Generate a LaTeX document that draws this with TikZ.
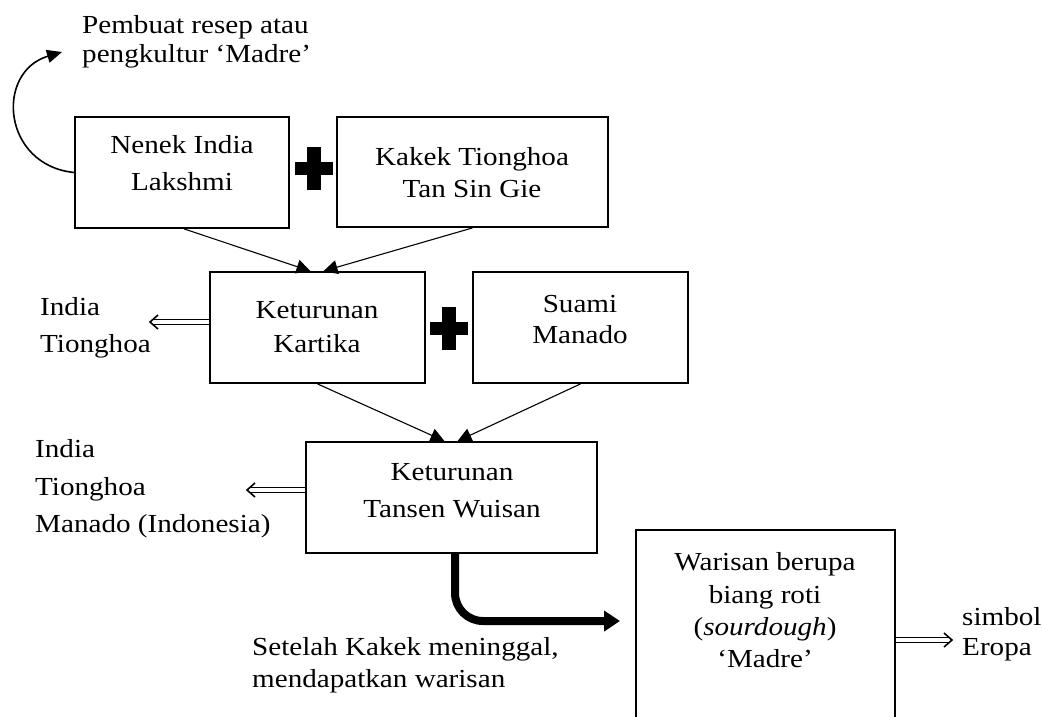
\documentclass[tikz,border=0pt]{standalone}
\usepackage{fontspec}
\setmainfont[FakeStretch=1.12]{Liberation Serif}
\usetikzlibrary{arrows.meta,calc}
\begin{document}
\begin{tikzpicture}[x=1pt,y=-1pt,
  box/.style={draw, line width=1.8pt, inner sep=0pt},
  txt/.style={inner sep=0pt, anchor=base, font=\fontsize{26}{30}\selectfont},
  txtw/.style={inner sep=0pt, anchor=base west, font=\fontsize{26}{30}\selectfont},
  thinarrow/.style={line width=1.1pt, -{Triangle[length=14pt,width=14pt]}},
  dblline/.style={double, double distance=3.2pt, line width=1.4pt},
  chev/.style={line width=1.6pt, line join=miter},
  fatarrow/.style={line width=8pt, rounded corners=28pt, -{Triangle[length=16pt,width=20pt]}},
  curvarrow/.style={line width=1.6pt, -{Triangle[length=15pt,width=13pt]}},
  plusbar/.style={fill=black, inner sep=0pt}
]
\useasboundingbox (0,0) rectangle (1043,716);
\clip (0,0) rectangle (1043,716);

% boxes
\node[box, minimum width=214pt, minimum height=111pt] (n1) at (182,172.5) {};
\node[box, minimum width=271pt, minimum height=110pt] (n2) at (472.5,172) {};
\node[box, minimum width=215pt, minimum height=111pt] (n3) at (317.5,327.5) {};
\node[box, minimum width=215pt, minimum height=111pt] (n4) at (580.5,327.5) {};
\node[box, minimum width=291pt, minimum height=111pt] (n5) at (451.5,497.5) {};
\node[box, minimum width=259pt, minimum height=240pt] (n6) at (765.5,650) {};

% box texts
\node[txt] (t1a) at (182,153) {Nenek India};
\node[txt] (t1b) at (182,190) {Lakshmi};
\node[txt] (t2a) at (472,165) {Kakek Tionghoa};
\node[txt] (t2b) at (472,197) {Tan Sin Gie};
\node[txt] (t3a) at (317,318) {Keturunan};
\node[txt] (t3b) at (317,352) {Kartika};
\node[txt] (t4a) at (580,312) {Suami};
\node[txt] (t4b) at (580,343) {Manado};
\node[txt] (t5a) at (452,480) {Keturunan};
\node[txt] (t5b) at (452,517) {Tansen Wuisan};
\node[txt] (t6a) at (765,570) {Warisan berupa};
\node[txt] (t6b) at (765,603) {biang roti};
\node[txt] (t6c) at (765,635) {(\textit{sourdough})};
\node[txt] (t6d) at (765,667) {‘Madre’};

% free labels
\node[txtw] (l1a) at (82,33) {Pembuat resep atau};
\node[txtw] (l1b) at (82,62) {pengkultur ‘Madre’};
\node[txtw] (l2a) at (40,315) {India};
\node[txtw] (l2b) at (40,352) {Tionghoa};
\node[txtw] (l3a) at (35,457) {India};
\node[txtw] (l3b) at (35,495) {Tionghoa};
\node[txtw] (l3c) at (35,532) {Manado (Indonesia)};
\node[txtw] (l4a) at (252,655) {Setelah Kakek meninggal,};
\node[txtw] (l4b) at (252,687) {mendapatkan warisan};
\node[txtw] (l5a) at (962,625) {simbol};
\node[txtw] (l5b) at (962,655) {Eropa};

% plus signs
\node[plusbar, minimum width=38pt, minimum height=13pt] (p1h) at (314,168) {};
\node[plusbar, minimum width=14pt, minimum height=43pt] (p1v) at (314,168) {};
\node[plusbar, minimum width=38pt, minimum height=13pt] (p2h) at (449,328) {};
\node[plusbar, minimum width=14pt, minimum height=43pt] (p2v) at (449,328) {};

% thin arrows
\draw[thinarrow] ($(n1.south)+(2,0)$) -- ($(n3.north)+(-7,0)$);
\draw[thinarrow] (n2.south) -- ($(n3.north)+(6,0)$);
\draw[thinarrow] (n3.south) -- ($(n5.north)+(-7,0)$);
\draw[thinarrow] (n4.south) -- ($(n5.north)+(6,0)$);

% double arrows
\coordinate (d1) at (150,322);
\coordinate (d2) at (247,490);
\coordinate (d3) at (952,640);
\draw[dblline] (n3.west |- d1) -- ($(d1)+(3,0)$);
\draw[chev] ($(d1)+(8,-7)$) -- (d1) -- ($(d1)+(8,7)$);
\draw[dblline] (n5.west |- d2) -- ($(d2)+(3,0)$);
\draw[chev] ($(d2)+(8,-7)$) -- (d2) -- ($(d2)+(8,7)$);
\draw[dblline] (n6.east |- d3) -- ($(d3)+(-3,0)$);
\draw[chev] ($(d3)+(-8,-7)$) -- (d3) -- ($(d3)+(-8,7)$);

% thick arrow
\coordinate (k1) at (620,621);
\draw[fatarrow] ($(n5.south)+(3.5,0)$) |- (k1);

% curved arrow
\coordinate (c1) at (62,52);
\draw[curvarrow] (n1.west) .. controls (2,165) and (-5,72) .. (c1);
\end{tikzpicture}
\end{document}
